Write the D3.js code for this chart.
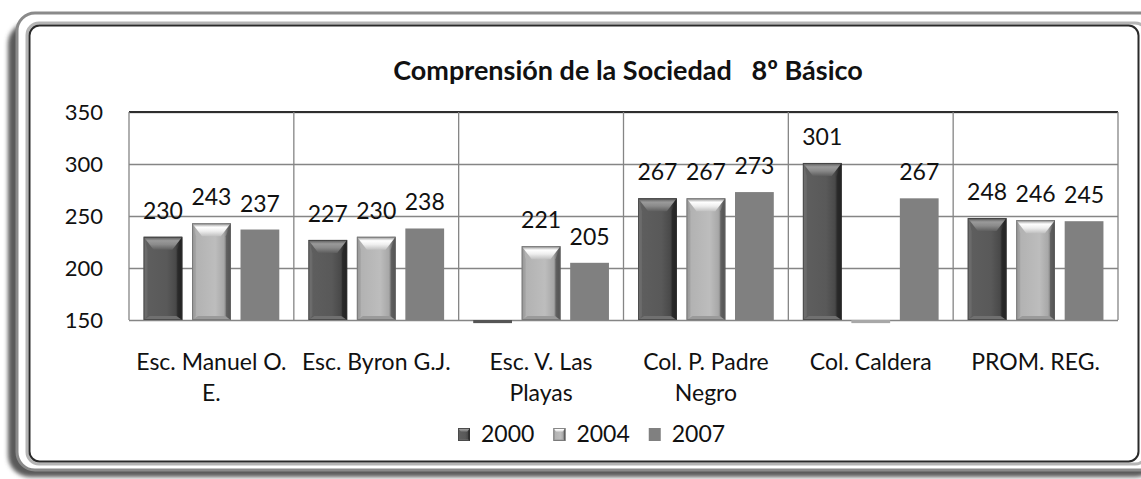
<!DOCTYPE html>
<html><head><meta charset="utf-8">
<script src="https://cdn.jsdelivr.net/npm/d3@7"></script>
<style>
html,body{margin:0;padding:0;background:#fff;}
svg{display:block;}
text{font-family:Lato,"Open Sans",sans-serif;fill:#111;}
</style>
</head><body>
<svg id="chart" width="1141" height="479"></svg>
<script>
// ---------- data ----------
const titleText = "Comprensión de la Sociedad   8º Básico";
const categories = ["Esc. Manuel O. E.", "Esc. Byron G.J.", "Esc. V. Las Playas", "Col. P. Padre Negro", "Col. Caldera", "PROM. REG."];
const seriesNames = ["2000", "2004", "2007"];
const values2000 = [230, 227, 147, 267, 301, 248];
const values2004 = [243, 230, 221, 267, 147, 246];
const values2007 = [237, 238, 205, 273, 267, 245];
const yTicks = [150, 200, 250, 300, 350];
const seriesValues = [values2000, values2004, values2007];

// ---------- layout ----------
const plot = {left: 129, right: 1118, top: 112, bottom: 320};
const svg = d3.select("#chart");
const defs = svg.append("defs");

// ---------- frame ----------
const blur = defs.append("filter").attr("id", "shadowBlur").attr("x", "-5%").attr("y", "-5%").attr("width", "110%").attr("height", "110%");
blur.append("feGaussianBlur").attr("stdDeviation", 2);
svg.append("rect").attr("x", 8).attr("y", 22).attr("width", 1150).attr("height", 455).attr("rx", 22)
  .attr("fill", "#5a5a5a").attr("filter", "url(#shadowBlur)");
svg.append("rect").attr("x", 17).attr("y", 13).attr("width", 1140).attr("height", 457).attr("rx", 18)
  .attr("fill", "#fff").attr("stroke", "#8a8a8a").attr("stroke-width", 3);
svg.append("rect").attr("x", 27).attr("y", 23).attr("width", 1120).attr("height", 441).attr("rx", 12)
  .attr("fill", "none").attr("stroke", "#b5b5b5").attr("stroke-width", 3);
svg.append("rect").attr("x", 29.5).attr("y", 25.5).attr("width", 1109).attr("height", 436).attr("rx", 10)
  .attr("fill", "#fff").attr("stroke", "#2a2a2a").attr("stroke-width", 2);

// ---------- scales ----------
const y = d3.scaleLinear().domain([150, 350]).range([plot.bottom, plot.top]);
const x = d3.scaleBand().domain(categories).range([plot.left, plot.right]).padding(0);
const xs = d3.scaleBand().domain(seriesNames).range([0, x.bandwidth()]).paddingInner(0.2).paddingOuter(0.3);

// ---------- gradients ----------
function hGrad(id, stops) {
  const g = defs.append("linearGradient").attr("id", id).attr("x1", 0).attr("x2", 1).attr("y1", 0).attr("y2", 0);
  stops.forEach(s => g.append("stop").attr("offset", s[0]).attr("stop-color", s[1]));
}
function vGrad(id, stops) {
  const g = defs.append("linearGradient").attr("id", id).attr("x1", 0).attr("x2", 0).attr("y1", 0).attr("y2", 1);
  stops.forEach(s => g.append("stop").attr("offset", s[0]).attr("stop-color", s[1]));
}
hGrad("body2000", [["0%", "#707070"], ["10%", "#5e5e5e"], ["60%", "#595959"], ["82%", "#4a4a4a"], ["92%", "#2a2a2a"], ["100%", "#1c1c1c"]]);
hGrad("body2004", [["0%", "#8c8c8c"], ["10%", "#b2b2b2"], ["60%", "#bdbdbd"], ["82%", "#a8a8a8"], ["92%", "#6a6a6a"], ["100%", "#4e4e4e"]]);
vGrad("top2000", [["0%", "#555555"], ["30%", "#9a9a9a"], ["60%", "#8a8a8a"], ["100%", "#5e5e5e"]]);
vGrad("top2004", [["0%", "#8a8a8a"], ["30%", "#ffffff"], ["60%", "#eeeeee"], ["100%", "#c0c0c0"]]);

const styles = {
  "2000": {body: "url(#body2000)", top: "url(#top2000)", bottom: "#707070", left: "#707070", right: "#262626", flat: "#555555", outline: "#333", bevel: true},
  "2004": {body: "url(#body2004)", top: "url(#top2004)", bottom: "#9a9a9a", left: "#9c9c9c", right: "#555555", flat: "#a8a8a8", outline: "#666", bevel: true},
  "2007": {flat: "#808080", bevel: false}
};

function drawBar(g, x0, y0, w, h, st, bx, bt, bb) {
  if (!st.bevel || h < bt + bb + 2) {
    g.append("rect").attr("x", x0).attr("y", y0).attr("width", w).attr("height", h).attr("fill", st.flat);
    return;
  }
  g.append("rect").attr("x", x0).attr("y", y0).attr("width", w).attr("height", h).attr("fill", st.body);
  const pts = a => a.map(p => p.join(",")).join(" ");
  g.append("polygon").attr("points", pts([[x0, y0], [x0 + bx * 0.4, y0 + bt], [x0 + bx * 0.4, y0 + h - bb], [x0, y0 + h]])).attr("fill", st.left).attr("opacity", 0.6);
  g.append("polygon").attr("points", pts([[x0 + w, y0], [x0 + w - bx * 0.5, y0 + bt], [x0 + w - bx * 0.5, y0 + h - bb], [x0 + w, y0 + h]])).attr("fill", st.right).attr("opacity", 0.7);
  g.append("polygon").attr("points", pts([[x0, y0], [x0 + w, y0], [x0 + w - bx, y0 + bt], [x0 + bx, y0 + bt]])).attr("fill", st.top);
  g.append("polygon").attr("points", pts([[x0, y0 + h], [x0 + w, y0 + h], [x0 + w - bx * 0.6, y0 + h - bb], [x0 + bx * 0.6, y0 + h - bb]])).attr("fill", st.bottom);
  g.append("rect").attr("x", x0 + 0.5).attr("y", y0 + 0.5).attr("width", w - 1).attr("height", h - 1).attr("fill", "none").attr("stroke", st.outline).attr("stroke-width", 1).attr("opacity", 0.6);
}

// ---------- gridlines ----------
const grid = svg.append("g");
grid.append("g").attr("transform", `translate(${plot.left},0)`)
  .call(d3.axisLeft(y).tickValues(yTicks).tickSize(-(plot.right - plot.left)).tickFormat(""))
  .call(g => g.select(".domain").remove())
  .call(g => g.selectAll(".tick line").attr("stroke", "#858585").attr("stroke-width", 1.3));
grid.append("line").attr("x1", plot.left).attr("x2", plot.right).attr("y1", y(350)).attr("y2", y(350))
  .attr("stroke", "#2e2e2e").attr("stroke-width", 2);
const vx = categories.map(c => x(c)).concat([x.range()[1]]);
grid.selectAll("line.v").data(vx).enter().append("line").attr("class", "v")
  .attr("x1", d => d).attr("x2", d => d).attr("y1", y(350)).attr("y2", y(150))
  .attr("stroke", "#858585").attr("stroke-width", 1.3);

// ---------- y axis labels ----------
svg.append("g").attr("transform", `translate(${plot.left},0)`)
  .call(d3.axisLeft(y).tickValues(yTicks).tickSize(0).tickPadding(26))
  .call(g => g.select(".domain").remove())
  .call(g => g.selectAll("text").attr("font-size", 22).attr("font-family", "Lato").attr("fill", "#111"));

// ---------- bars ----------
const barsG = svg.append("g");
const labelsG = svg.append("g");
seriesNames.forEach((s, si) => {
  const vals = seriesValues[si];
  categories.forEach((c, ci) => {
    const v = vals[ci];
    const x0 = x(c) + xs(s);
    const w = xs.bandwidth();
    const base = y(150);
    const yt = Math.min(y(v), base);
    const h = Math.abs(y(v) - base);
    drawBar(barsG, x0, yt, w, h, styles[s], 10, 13, 4);
    if (v >= 150) {
      labelsG.append("text").attr("x", x0 + w / 2).attr("y", y(v) - 18)
        .attr("text-anchor", "middle").attr("font-size", 23).text(v);
    }
  });
});

// ---------- category labels ----------
const catG = svg.append("g");
const maxW = x.bandwidth() - 6;
categories.forEach(c => {
  const cx = x(c) + x.bandwidth() / 2;
  const t = catG.append("text").attr("x", cx).attr("y", 370)
    .attr("text-anchor", "middle").attr("font-size", 23);
  const words = c.split(" ");
  let line = [];
  let tspan = t.append("tspan").attr("x", cx).attr("dy", 0);
  words.forEach(wd => {
    line.push(wd);
    tspan.text(line.join(" "));
    if (tspan.node().getComputedTextLength() > maxW && line.length > 1) {
      line.pop();
      tspan.text(line.join(" "));
      line = [wd];
      tspan = t.append("tspan").attr("x", cx).attr("dy", 31).text(wd);
    }
  });
});

// ---------- title ----------
svg.append("text").attr("x", 628).attr("y", 80).attr("text-anchor", "middle")
  .attr("font-size", 27).attr("font-weight", "bold").style("white-space", "pre").attr("xml:space", "preserve")
  .text(titleText);

// ---------- legend ----------
const legendG = svg.append("g");
let lx = 458;
seriesNames.forEach(s => {
  const g = legendG.append("g");
  drawBar(g, lx, 428, 12, 13, styles[s], 3, 4, 1.5);
  const t = g.append("text").attr("x", lx + 23).attr("y", 442).attr("font-size", 23).text(s);
  lx += 23 + t.node().getComputedTextLength() + 19;
});
</script>
</body></html>
